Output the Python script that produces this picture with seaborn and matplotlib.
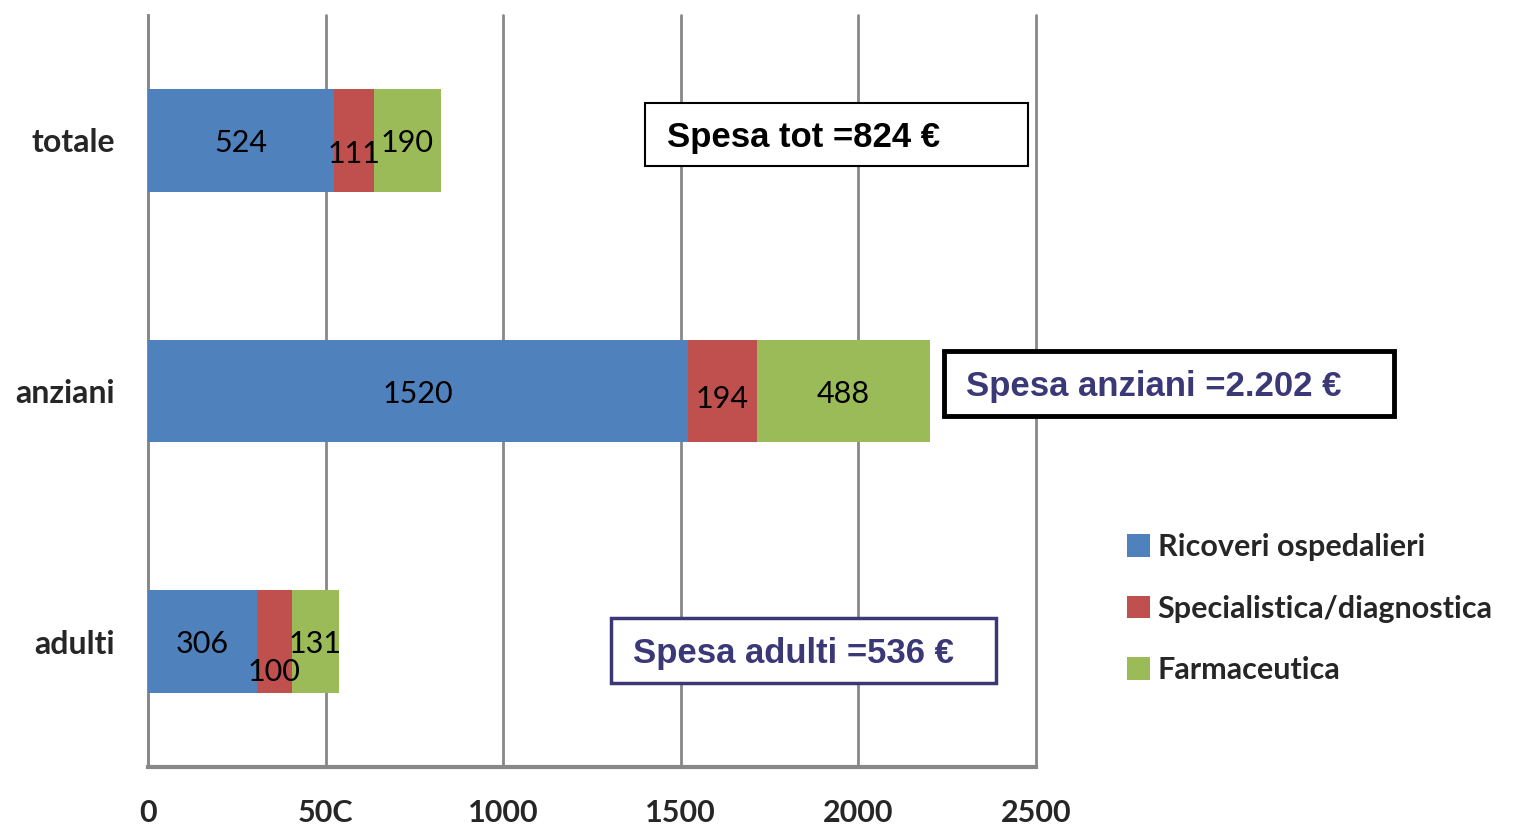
import numpy as np
import pandas as pd
import matplotlib
matplotlib.use("Agg")
import matplotlib.pyplot as plt
from matplotlib.patches import Rectangle, Patch
import seaborn as sns

# dati
gruppi = ["totale", "anziani", "adulti"]
ricoveri = [524, 1520, 306]
specialistica = [111, 194, 100]
farmaceutica = [190, 488, 131]
serie = ["Ricoveri ospedalieri", "Specialistica/diagnostica", "Farmaceutica"]
colori = ["#4F81BD", "#C0504D", "#9BBB59"]
xticks = [0, 500, 1000, 1500, 2000, 2500]
xtick_labels = ["0", "50C", "1000", "1500", "2000", "2500"]
box_testi = ["Spesa tot =824 €", "Spesa anziani =2.202 €", "Spesa adulti =536 €"]

sns.set_style("white")
plt.rcParams["font.family"] = ["Lato", "DejaVu Sans"]

W, H = 1515, 830
fig = plt.figure(figsize=(W / 100, H / 100), dpi=100)
ax = fig.add_axes([148 / W, 63 / H, 888 / W, 752 / H])

df = pd.DataFrame({"gruppo": gruppi, "ric": ricoveri, "spe": specialistica, "far": farmaceutica})
df["c1"] = df["ric"]
df["c2"] = df["ric"] + df["spe"]
df["c3"] = df["c2"] + df["far"]

# barre cumulate disegnate dalla piu lunga alla piu corta
for col, c in zip(["c3", "c2", "c1"], colori[::-1]):
    sns.barplot(data=df, y="gruppo", x=col, order=gruppi, color=c, width=0.41,
                saturation=1, edgecolor="none", linewidth=0, ax=ax, zorder=3)

# etichette valori
dy = {(0, 1): 0.045, (1, 1): 0.02, (2, 1): 0.11}
for i in range(len(gruppi)):
    vals = [ricoveri[i], specialistica[i], farmaceutica[i]]
    start = 0
    for j, v in enumerate(vals):
        ax.text(start + v / 2, i + 0.01 + dy.get((i, j), 0), str(v), ha="center", va="center",
                fontsize=22, color="black", zorder=5)
        start += v

ax.set_xlim(0, 2500)
ax.set_ylim(2.5, -0.5)
ax.set_xlabel("")
ax.set_ylabel("")
ax.set_xticks(xticks)
ax.set_xticklabels(xtick_labels, fontsize=22, fontweight="bold")
ax.set_yticks(range(3))
ax.set_yticklabels(gruppi, fontsize=23, fontweight="bold")
ax.set_yticks([-0.5, 0.5, 1.5, 2.5], minor=True)
ax.tick_params(axis="y", which="major", length=0, pad=24)
ax.tick_params(axis="y", which="minor", length=7, width=2, color="#888888", direction="out")
ax.tick_params(axis="x", length=7, width=2, color="#888888", direction="out", pad=16)

ax.grid(axis="x", color="#888888", linewidth=2, zorder=0)
ax.grid(axis="y", visible=False)
for gl in ax.get_xgridlines():
    gl.set_clip_on(False)
ax.set_axisbelow(True)
for s in ["top", "right"]:
    ax.spines[s].set_visible(False)
ax.spines["left"].set_color("#888888")
ax.spines["left"].set_linewidth(2)
ax.spines["bottom"].set_color("#888888")
ax.spines["bottom"].set_linewidth(3)

# legenda
handles = [Patch(facecolor=c, edgecolor="none") for c in colori]
fig.legend(handles, serie, loc="upper left", bbox_to_anchor=(1127 / W, 1 - 533 / H),
           frameon=False, prop={"weight": "bold", "size": 22},
           handlelength=0.75, handleheight=0.75, handletextpad=0.25, labelspacing=1.1,
           borderpad=0, borderaxespad=0)

# riquadri
riquadri = [(645, 103, 383, 63, "black", 1.5, "black"),
            (944, 351, 450, 65, "black", 3.5, "#3B3878"),
            (611, 618, 385, 65, "#3B3878", 2.5, "#3B3878")]
for (x0, y0, w, h, ec, lw, tc), testo in zip(riquadri, box_testi):
    fig.add_artist(Rectangle((x0 / W, 1 - (y0 + h) / H), w / W, h / H, transform=fig.transFigure,
                             fill=True, facecolor="white", edgecolor=ec, linewidth=lw, zorder=10))
    fig.text((x0 + 22) / W, 1 - (y0 + h / 2 + 3) / H, testo, ha="left", va="center",
             fontsize=25, fontweight="bold", color=tc, family="Liberation Sans", zorder=11)

fig.savefig("out.png", dpi=100)
